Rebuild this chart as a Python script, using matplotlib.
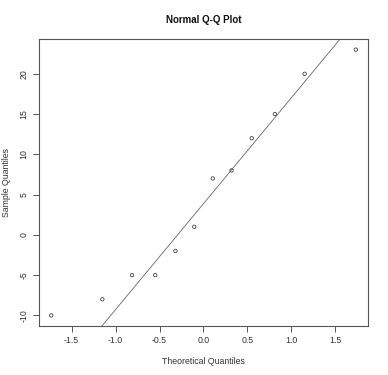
import numpy as np
import matplotlib
matplotlib.use("Agg")
import matplotlib.pyplot as plt

# sample values (sorted) and their theoretical normal quantiles
sample = [-10, -8, -5, -5, -2, 1, 7, 8, 12, 15, 20, 23]
theoretical = [-1.732, -1.150, -0.812, -0.549, -0.319, -0.105,
               0.105, 0.319, 0.549, 0.812, 1.150, 1.732]
xticks = [-1.5, -1.0, -0.5, 0.0, 0.5, 1.0, 1.5]
yticks = [-10, -5, 0, 5, 10, 15, 20]

plt.rcParams['font.family'] = ['Liberation Sans', 'DejaVu Sans']
fg = '#333333'
ax_col = '#555555'

fig = plt.figure(figsize=(3.88, 3.75), dpi=100)
ax = fig.add_axes([39 / 388, 1 - 326 / 375, 329 / 388, 287 / 375])

ax.scatter(theoretical, sample, s=6, facecolors='none', edgecolors='#333333', linewidths=0.55, zorder=3)

# qq line through the quartiles
y1, y2 = np.quantile(sample, [0.25, 0.75])
x1, x2 = -0.6745, 0.6745
slope = (y2 - y1) / (x2 - x1)
inter = y1 - slope * x1
xl = np.array([-3, 3])
ax.plot(xl, inter + slope * xl, color='#666666', lw=0.6)

pad_x = 0.04 * (max(theoretical) - min(theoretical))
pad_y = 0.04 * (max(sample) - min(sample))
ax.set_xlim(min(theoretical) - pad_x, max(theoretical) + pad_x)
ax.set_ylim(min(sample) - pad_y, max(sample) + pad_y)

ax.set_xticks(xticks)
ax.set_xticklabels([f"{v:.1f}" for v in xticks])
ax.set_yticks(yticks)
ax.set_yticklabels([str(v) for v in yticks], rotation=90, va='center')
ax.tick_params(colors=ax_col, labelcolor=fg, labelsize=6.3, length=4.5, width=0.7, pad=3)
for s in ax.spines.values():
    s.set_color(ax_col)
    s.set_linewidth(0.8)

fig.text(203.5 / 388, 1 - 20 / 375, "Normal Q-Q Plot", ha='center', va='center',
         fontsize=7, fontweight='bold', color='#111111')
fig.text(203.5 / 388, 1 - 361 / 375, "Theoretical Quantiles", ha='center', va='center',
         fontsize=6.3, color=fg)
fig.text(7 / 388, 1 - 182 / 375, "Sample Quantiles", ha='center', va='center',
         fontsize=6.3, color=fg, rotation=90)

fig.savefig("out.png", dpi=100)
